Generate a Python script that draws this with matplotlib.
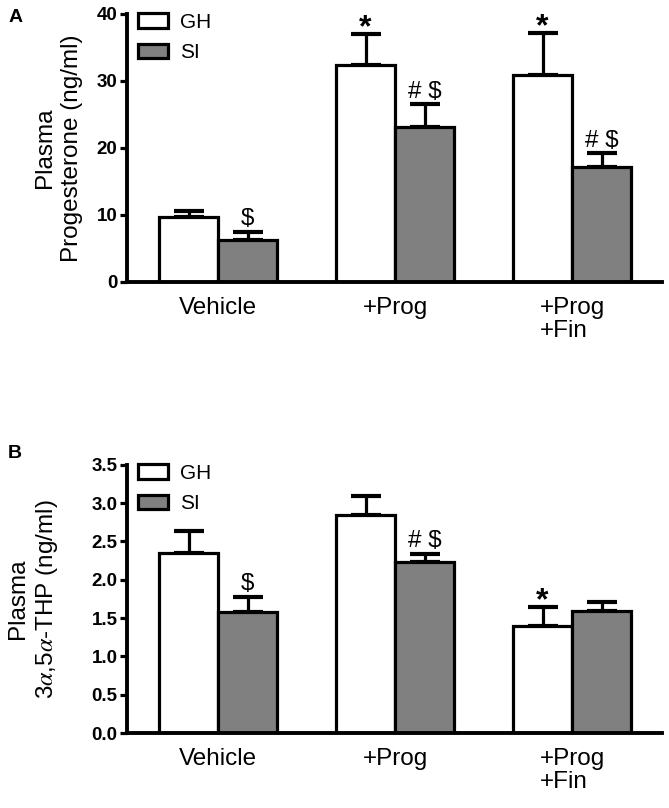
import numpy as np
import matplotlib.pyplot as plt
from matplotlib.patches import Patch

plt.rcParams['font.family'] = ['Liberation Sans', 'DejaVu Sans']
plt.rcParams['mathtext.fontset'] = 'stix'

groups = ['Vehicle', '+Prog', '+Prog\n+Fin']
series = ['GH', 'SI']
colors = ['white', '#808080']

# panel A: plasma progesterone (ng/ml)
prog_gh = [9.7, 32.4, 30.8]
prog_gh_err = [0.9, 4.6, 6.4]
prog_si = [6.2, 23.1, 17.2]
prog_si_err = [1.3, 3.4, 2.0]
prog_gh_marks = ['', '*', '*']
prog_si_marks = ['$', '# $', '# $']

# panel B: plasma 3a,5a-THP (ng/ml)
thp_gh = [2.35, 2.84, 1.39]
thp_gh_err = [0.29, 0.25, 0.26]
thp_si = [1.58, 2.23, 1.59]
thp_si_err = [0.20, 0.11, 0.12]
thp_gh_marks = ['', '', '*']
thp_si_marks = ['$', '# $', '']

LW = 2.3
W = 0.333


def panel(ax, gh, gh_err, si, si_err, gh_marks, si_marks, ymax, yticks, ytlabels, ylab, labx):
    x = np.arange(len(groups))
    vals = [gh, si]
    errs = [gh_err, si_err]
    marks = [gh_marks, si_marks]
    for i in range(2):
        xi = x + (i - 0.5) * W
        ax.bar(xi, vals[i], W, color=colors[i], edgecolor='black', linewidth=LW, zorder=2)
        ax.errorbar(xi, vals[i], yerr=[np.zeros(3), errs[i]], fmt='none', ecolor='black',
                    elinewidth=LW, capsize=10.5, capthick=LW + 0.7, zorder=1)
        for xx, v, e, m in zip(xi, vals[i], errs[i], marks[i]):
            if m == '*':
                ax.annotate('*', (xx, v + e), xytext=(0, -7), textcoords='offset points',
                            ha='center', va='bottom', fontsize=23, fontweight='bold')
            elif m:
                ax.annotate(m, (xx, v + e), xytext=(0, 1), textcoords='offset points',
                            ha='center', va='bottom', fontsize=17.5)
    ax.set_xlim(-0.514, 2.51)
    ax.set_ylim(0, ymax)
    ax.set_yticks(yticks)
    ax.set_yticklabels(ytlabels, fontweight='bold')
    ax.set_xticks(x)
    ax.set_xticklabels(groups, fontsize=17.5, multialignment='left', linespacing=1.05)
    ax.tick_params(axis='x', length=0, pad=11)
    ax.tick_params(axis='y', length=5, width=LW, labelsize=13.5, pad=2)
    for s in ['top', 'right']:
        ax.spines[s].set_visible(False)
    for s in ['left', 'bottom']:
        ax.spines[s].set_linewidth(LW + 0.5)
    ax.set_ylabel(ylab, fontsize=17.5, linespacing=1.3)
    ax.yaxis.set_label_coords(labx, 0.5)
    handles = [Patch(facecolor=colors[i], edgecolor='black', linewidth=LW, label=series[i])
               for i in range(2)]
    ax.legend(handles=handles, loc='upper left', bbox_to_anchor=(0.0, 1.042), frameon=False,
              fontsize=15, handlelength=1.45, handleheight=0.7, handletextpad=0.6,
              labelspacing=0.55, borderpad=0.3, borderaxespad=0.2)


fig = plt.figure(figsize=(6.69, 8.08), dpi=100)
axA = fig.add_axes([0.190, 0.651, 0.800, 0.332])
axB = fig.add_axes([0.190, 0.0928, 0.800, 0.332])

ticksA = [0, 10, 20, 30, 40]
ticksB = np.arange(0, 3.51, 0.5)
panel(axA, prog_gh, prog_gh_err, prog_si, prog_si_err, prog_gh_marks, prog_si_marks,
      40, ticksA, [str(t) for t in ticksA], 'Plasma\nProgesterone (ng/ml)', -0.082)
panel(axB, thp_gh, thp_gh_err, thp_si, thp_si_err, thp_gh_marks, thp_si_marks,
      3.5, ticksB, ['%.1f' % t for t in ticksB], 'Plasma\n3$\\alpha$,5$\\alpha$-THP (ng/ml)', -0.125)

fig.text(0.012, 0.978, 'A', fontsize=14, fontweight='bold', va='center')
fig.text(0.012, 0.439, 'B', fontsize=14, fontweight='bold', va='center')

plt.savefig('out.png', dpi=100)
